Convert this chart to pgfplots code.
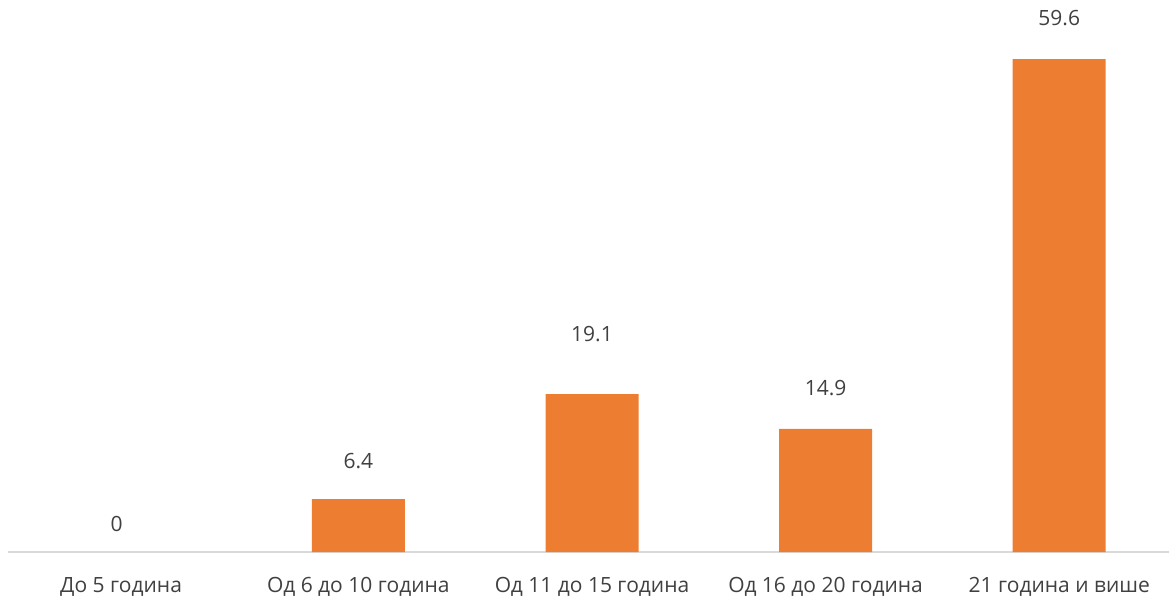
\documentclass[border=0pt]{standalone}
\usepackage{fontspec}
\setmainfont{Open Sans}
\usepackage{pgfplots}
\pgfplotsset{compat=1.18}
\definecolor{barorange}{HTML}{ED7D31}
\definecolor{txtgray}{HTML}{404040}
\definecolor{axgray}{HTML}{D9D9D9}
\begin{document}
\begin{tikzpicture}[x=1pt,y=1pt]
\begin{axis}[
  at={(8pt,46pt)}, anchor=south west,
  scale only axis,
  width=1168pt, height=578.9pt,
  xmin=-0.5, xmax=4.5, ymin=0, ymax=70,
  axis lines*=left,
  axis y line=none,
  x axis line style={draw=axgray, line width=1.5pt, -},
  xtick={-0.016,1,2,3,4},
  xticklabels={До 5 година, Од 6 до 10 година, Од 11 до 15 година, Од 16 до 20 година, 21 година и више},
  major tick length=0pt,
  xticklabel style={font=\fontsize{21}{24}\selectfont, text=txtgray, yshift=-22pt},
  clip=false,
]
\addplot[ybar, bar width=93pt, fill=barorange, draw=none] coordinates {(1,6.4) (2,19.1) (3,14.9) (4,59.6)};
\addplot[only marks, mark=none, nodes near coords, point meta=explicit symbolic,
  every node near coord/.append style={anchor=center, font=\fontsize{21}{24}\selectfont, text=txtgray}]
  coordinates {(-0.035,3.4)[0] (1,11.0)[6.4] (2,26.4)[19.1] (3,19.8)[14.9] (4,64.6)[59.6]};
\end{axis}
\pgfresetboundingbox
\useasboundingbox (0,0) rectangle (1169,598);
\end{tikzpicture}
\end{document}
